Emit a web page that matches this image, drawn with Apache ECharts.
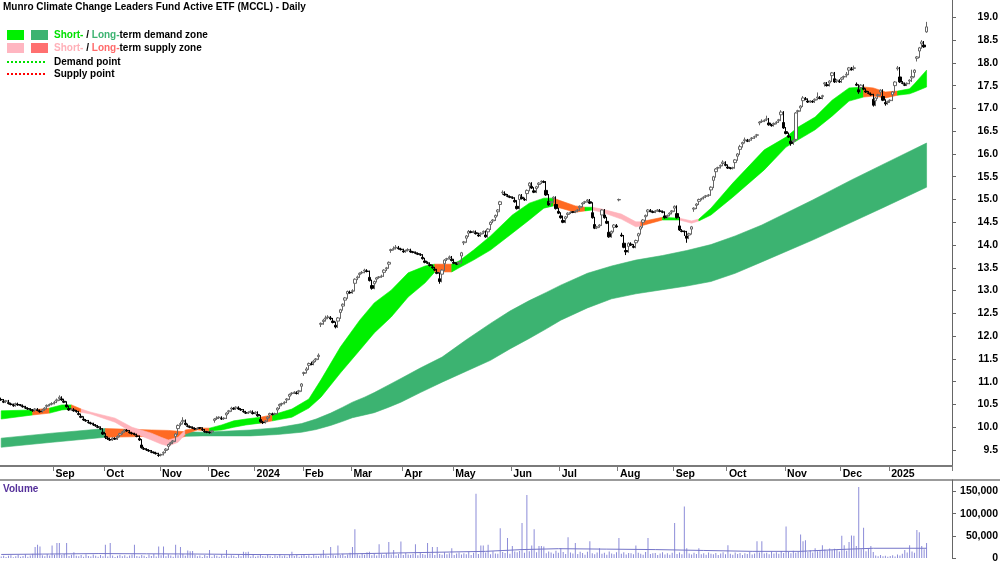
<!DOCTYPE html>
<html>
<head>
<meta charset="utf-8">
<script src="https://cdn.jsdelivr.net/npm/echarts@6/dist/echarts.min.js"></script>
<style>
html,body{margin:0;padding:0;background:#fff}
#main{width:1000px;height:562px}
</style>
</head>
<body>
<div id="main"></div>
<script>
// trading-day index 0 = first session of Aug 2023
var opens = [
10.61,10.57,10.57,10.54,10.51,10.48,10.50,10.50,10.49,10.46,
10.43,10.41,10.39,10.37,10.38,10.38,10.35,10.36,10.40,10.46,
10.49,10.51,10.54,10.58,10.63,10.62,10.57,10.49,10.41,10.39,
10.38,10.35,10.30,10.24,10.18,10.15,10.11,10.09,10.06,10.04,
10.01,9.97,9.89,9.80,9.76,9.73,9.74,9.75,9.77,9.83,
9.88,9.92,9.93,9.89,9.87,9.85,9.81,9.75,9.61,9.53,
9.51,9.49,9.46,9.45,9.43,9.39,9.39,9.43,9.49,9.58,
9.64,9.68,9.80,9.97,10.06,10.12,10.09,10.03,10.01,9.99,
9.97,9.97,9.99,9.95,9.91,9.90,9.89,9.90,10.15,10.19,
10.21,10.19,10.19,10.27,10.34,10.40,10.41,10.42,10.42,10.39,
10.35,10.32,10.32,10.34,10.32,10.31,10.28,10.17,10.11,10.12,
10.19,10.27,10.29,10.29,10.38,10.47,10.51,10.54,10.60,10.68,
10.74,10.76,10.75,10.78,10.90,11.18,11.25,11.36,11.39,11.42,
11.48,11.55,12.26,12.32,12.38,12.41,12.40,12.33,12.24,12.33,
12.52,12.66,12.79,12.93,12.96,12.98,13.16,13.28,13.35,13.39,
13.43,13.43,13.29,13.11,13.15,13.25,13.29,13.31,13.40,13.48,
13.58,13.88,13.91,13.94,13.93,13.91,13.87,13.87,13.89,13.87,
13.85,13.83,13.81,13.79,13.73,13.65,13.61,13.57,13.52,13.47,
13.40,13.26,13.36,13.59,13.69,13.72,13.69,13.62,13.59,13.60,
13.76,14.05,14.15,14.26,14.29,14.29,14.27,14.22,14.24,14.28,
14.22,14.29,14.45,14.53,14.61,14.73,14.89,15.15,15.12,15.08,
15.06,15.04,14.98,14.85,15.00,15.05,15.00,15.13,15.30,15.29,
15.19,15.24,15.33,15.39,15.39,15.20,14.96,14.93,15.02,14.89,
14.74,14.64,14.54,14.58,14.67,14.71,14.73,14.73,14.76,14.82,
14.90,14.94,14.97,14.95,14.71,14.45,14.38,14.42,14.66,14.66,
14.52,14.28,14.26,14.39,14.42,14.99,14.22,14.04,13.88,13.97,
14.02,13.97,14.05,14.20,14.35,14.50,14.62,14.73,14.75,14.73,
14.74,14.76,14.75,14.73,14.64,14.63,14.68,14.73,14.81,14.69,
14.42,14.31,14.30,14.20,14.22,14.35,14.79,14.87,14.96,15.01,
15.04,15.07,15.09,15.21,15.42,15.61,15.69,15.73,15.79,15.77,
15.71,15.69,15.69,15.81,15.95,16.10,16.22,16.29,16.29,16.30,
16.34,16.37,16.41,16.68,16.71,16.73,16.76,16.68,16.63,16.65,
16.69,16.73,16.86,16.69,16.49,16.40,16.28,16.27,16.32,16.93,
17.01,17.17,17.21,17.16,17.15,17.15,17.18,17.23,17.23,17.26,
17.54,17.52,17.56,17.72,17.65,17.60,17.59,17.64,17.69,17.73,
17.84,17.86,17.88,17.53,17.41,17.46,17.45,17.38,17.34,17.31,
17.20,17.17,17.28,17.36,17.26,17.13,17.13,17.17,17.30,17.50,
17.87,17.69,17.56,17.52,17.54,17.60,17.67,17.79,18.10,18.26,
18.42,18.39,18.68
];
var closes = [
10.60,10.55,10.58,10.52,10.50,10.47,10.52,10.49,10.48,10.45,
10.42,10.40,10.38,10.36,10.40,10.37,10.34,10.38,10.42,10.48,
10.50,10.52,10.55,10.60,10.66,10.60,10.55,10.45,10.38,10.40,
10.36,10.34,10.28,10.22,10.16,10.14,10.10,10.08,10.05,10.03,
10.00,9.96,9.85,9.78,9.75,9.72,9.76,9.74,9.80,9.86,
9.90,9.94,9.92,9.88,9.86,9.84,9.80,9.72,9.55,9.52,
9.50,9.48,9.45,9.44,9.42,9.38,9.40,9.45,9.52,9.62,
9.66,9.70,9.85,10.04,10.08,10.15,10.06,10.02,10.00,9.98,
9.96,9.98,9.98,9.94,9.90,9.89,9.88,9.92,10.18,10.20,
10.22,10.18,10.20,10.31,10.36,10.42,10.40,10.44,10.40,10.38,
10.34,10.31,10.33,10.35,10.30,10.33,10.25,10.12,10.10,10.14,
10.22,10.30,10.28,10.30,10.42,10.50,10.52,10.55,10.62,10.72,
10.75,10.77,10.74,10.80,10.95,11.20,11.28,11.40,11.38,11.45,
11.50,11.58,12.28,12.35,12.40,12.42,12.38,12.30,12.20,12.40,
12.58,12.70,12.84,12.98,12.95,13.00,13.25,13.30,13.38,13.40,
13.45,13.42,13.22,13.05,13.20,13.28,13.30,13.32,13.45,13.50,
13.62,13.90,13.92,13.95,13.92,13.90,13.85,13.88,13.90,13.85,
13.84,13.82,13.80,13.78,13.70,13.62,13.60,13.55,13.50,13.45,
13.38,13.20,13.45,13.67,13.70,13.74,13.66,13.60,13.58,13.62,
13.83,14.07,14.20,14.30,14.28,14.30,14.25,14.20,14.26,14.30,
14.18,14.35,14.50,14.55,14.65,14.77,14.95,15.16,15.10,15.07,
15.05,15.03,14.95,14.80,15.10,15.02,14.99,15.20,15.36,15.25,
15.16,15.28,15.36,15.40,15.38,15.10,14.88,14.95,15.05,14.80,
14.70,14.60,14.50,14.62,14.70,14.72,14.72,14.74,14.77,14.85,
14.92,14.95,14.99,14.92,14.60,14.37,14.40,14.44,14.77,14.60,
14.48,14.18,14.30,14.44,14.40,15.00,14.20,13.95,13.85,14.04,
14.00,13.95,14.10,14.25,14.40,14.55,14.65,14.77,14.74,14.72,
14.75,14.77,14.74,14.72,14.60,14.65,14.70,14.75,14.85,14.60,
14.33,14.30,14.29,14.15,14.25,14.40,14.81,14.90,15.00,15.02,
15.05,15.08,15.10,15.27,15.50,15.67,15.70,15.75,15.82,15.75,
15.69,15.68,15.70,15.87,16.00,16.16,16.25,16.31,16.28,16.31,
16.35,16.38,16.42,16.70,16.72,16.74,16.77,16.64,16.62,16.67,
16.70,16.75,16.92,16.57,16.45,16.37,16.23,16.30,16.90,16.95,
17.05,17.23,17.20,17.14,17.16,17.14,17.20,17.25,17.22,17.28,
17.56,17.50,17.60,17.78,17.58,17.62,17.58,17.67,17.70,17.75,
17.89,17.85,17.89,17.51,17.36,17.51,17.42,17.36,17.33,17.30,
17.07,17.23,17.30,17.40,17.18,17.10,17.15,17.18,17.36,17.58,
17.89,17.58,17.55,17.51,17.55,17.62,17.70,17.84,18.13,18.33,
18.46,18.35,18.79
];
var highs = [
10.65,10.62,10.60,10.60,10.54,10.52,10.54,10.54,10.51,10.50,
10.47,10.44,10.42,10.40,10.42,10.42,10.39,10.40,10.44,10.50,
10.52,10.55,10.58,10.63,10.70,10.68,10.62,10.57,10.47,10.42,
10.42,10.38,10.36,10.30,10.24,10.18,10.16,10.12,10.10,10.07,
10.05,10.02,9.98,9.87,9.80,9.77,9.78,9.78,9.82,9.88,
9.92,9.96,9.96,9.94,9.90,9.88,9.86,9.82,9.74,9.57,
9.54,9.52,9.50,9.47,9.46,9.44,9.42,9.47,9.54,9.64,
9.68,9.72,9.87,10.06,10.12,10.22,10.17,10.08,10.04,10.02,
10.00,10.00,10.00,10.00,9.96,9.92,9.91,9.94,10.20,10.24,
10.24,10.24,10.22,10.33,10.38,10.45,10.44,10.46,10.46,10.42,
10.40,10.36,10.35,10.37,10.37,10.35,10.35,10.27,10.14,10.16,
10.24,10.32,10.32,10.32,10.44,10.52,10.54,10.57,10.64,10.74,
10.77,10.79,10.79,10.82,10.97,11.22,11.32,11.42,11.44,11.48,
11.52,11.62,12.30,12.38,12.45,12.46,12.44,12.40,12.32,12.42,
12.60,12.72,12.86,13.00,13.00,13.03,13.27,13.33,13.40,13.43,
13.48,13.47,13.44,13.24,13.22,13.30,13.32,13.35,13.47,13.52,
13.64,13.92,13.97,14.00,13.98,13.94,13.92,13.90,13.93,13.92,
13.87,13.86,13.84,13.82,13.80,13.72,13.64,13.62,13.57,13.52,
13.47,13.40,13.47,13.69,13.72,13.77,13.76,13.68,13.62,13.64,
13.85,14.09,14.22,14.33,14.32,14.32,14.32,14.27,14.28,14.32,
14.32,14.37,14.52,14.57,14.67,14.79,14.97,15.20,15.18,15.12,
15.09,15.07,15.05,14.97,15.12,15.12,15.04,15.22,15.38,15.38,
15.27,15.30,15.38,15.42,15.42,15.40,15.12,14.97,15.07,15.07,
14.82,14.72,14.62,14.64,14.72,14.74,14.74,14.76,14.79,14.87,
14.94,14.97,15.01,15.01,14.94,14.62,14.42,14.46,14.79,14.79,
14.62,14.50,14.32,14.46,14.46,15.02,14.27,14.22,13.97,14.06,
14.06,14.02,14.12,14.27,14.42,14.57,14.67,14.79,14.79,14.76,
14.77,14.79,14.79,14.76,14.74,14.67,14.72,14.77,14.87,14.87,
14.62,14.35,14.32,14.31,14.27,14.42,14.83,14.92,15.02,15.04,
15.07,15.10,15.12,15.29,15.52,15.69,15.72,15.77,15.86,15.84,
15.77,15.71,15.72,15.89,16.02,16.20,16.27,16.36,16.33,16.33,
16.37,16.40,16.44,16.72,16.76,16.76,16.84,16.79,16.66,16.69,
16.72,16.77,16.96,16.94,16.59,16.47,16.39,16.32,16.92,16.97,
17.07,17.27,17.25,17.22,17.18,17.18,17.22,17.35,17.27,17.30,
17.58,17.58,17.62,17.80,17.80,17.64,17.64,17.69,17.72,17.80,
17.91,17.91,17.94,17.57,17.53,17.53,17.53,17.44,17.38,17.35,
17.32,17.25,17.32,17.42,17.42,17.20,17.17,17.20,17.38,17.60,
17.93,17.91,17.60,17.57,17.57,17.64,17.85,17.86,18.15,18.35,
18.50,18.48,18.90
];
var lows = [
10.58,10.53,10.53,10.50,10.48,10.45,10.45,10.47,10.46,10.43,
10.40,10.38,10.36,10.34,10.34,10.35,10.32,10.32,10.36,10.40,
10.46,10.48,10.50,10.53,10.58,10.58,10.53,10.43,10.36,10.36,
10.34,10.32,10.26,10.20,10.14,10.12,10.08,10.06,10.03,10.01,
9.98,9.94,9.83,9.74,9.72,9.70,9.70,9.72,9.72,9.78,
9.84,9.88,9.90,9.86,9.84,9.82,9.78,9.70,9.53,9.50,
9.48,9.46,9.43,9.42,9.40,9.35,9.36,9.38,9.43,9.50,
9.60,9.64,9.68,9.83,10.02,10.06,10.04,10.00,9.98,9.96,
9.94,9.94,9.96,9.92,9.88,9.87,9.86,9.86,10.10,10.16,
10.18,10.16,10.16,10.18,10.29,10.34,10.38,10.38,10.38,10.36,
10.32,10.29,10.29,10.31,10.28,10.28,10.23,10.10,10.07,10.08,
10.12,10.20,10.26,10.26,10.28,10.40,10.48,10.50,10.53,10.60,
10.70,10.73,10.72,10.72,10.78,11.13,11.18,11.26,11.36,11.36,
11.43,11.48,12.20,12.25,12.32,12.38,12.35,12.28,12.17,12.18,
12.38,12.56,12.68,12.82,12.93,12.93,12.98,13.23,13.28,13.36,
13.38,13.40,13.20,13.02,13.03,13.18,13.26,13.28,13.30,13.43,
13.48,13.83,13.88,13.90,13.90,13.88,13.83,13.83,13.86,13.83,
13.82,13.80,13.78,13.76,13.68,13.60,13.58,13.53,13.48,13.43,
13.36,13.15,13.18,13.43,13.65,13.68,13.64,13.58,13.56,13.56,
13.60,14.00,14.05,14.18,14.26,14.26,14.23,14.18,14.18,14.24,
14.16,14.16,14.33,14.48,14.53,14.63,14.75,15.10,15.08,15.05,
15.03,15.01,14.93,14.78,14.78,15.00,14.97,14.97,15.18,15.23,
15.14,15.14,15.26,15.34,15.36,15.08,14.86,14.86,14.93,14.78,
14.68,14.58,14.48,14.48,14.60,14.68,14.70,14.70,14.72,14.75,
14.83,14.90,14.93,14.90,14.58,14.35,14.35,14.38,14.42,14.58,
14.46,14.16,14.16,14.28,14.38,14.96,14.18,13.93,13.78,13.83,
13.98,13.93,13.93,14.08,14.23,14.38,14.53,14.63,14.72,14.70,
14.70,14.73,14.72,14.70,14.58,14.58,14.63,14.68,14.73,14.58,
14.31,14.28,14.20,14.05,14.13,14.23,14.73,14.79,14.88,14.98,
15.00,15.03,15.06,15.08,15.25,15.48,15.65,15.68,15.73,15.73,
15.67,15.66,15.66,15.68,15.85,15.98,16.14,16.23,16.26,16.26,
16.29,16.33,16.36,16.63,16.68,16.70,16.72,16.62,16.60,16.60,
16.65,16.68,16.73,16.55,16.43,16.35,16.18,16.20,16.28,16.88,
16.93,17.03,17.18,17.12,17.12,17.12,17.12,17.18,17.20,17.20,
17.48,17.48,17.48,17.58,17.56,17.56,17.56,17.56,17.65,17.68,
17.73,17.83,17.83,17.49,17.32,17.34,17.40,17.34,17.31,17.28,
17.04,17.05,17.21,17.28,17.16,17.06,17.08,17.13,17.16,17.34,
17.83,17.56,17.53,17.49,17.49,17.53,17.58,17.68,18.03,18.11,
18.31,18.33,18.66
];
var volumes = [
3200,5100,2400,4800,6100,1800,3900,7200,2600,4400,
8200,3100,5600,9800,25000,30000,26000,6200,4100,8800,
5400,28000,7600,34000,34000,6800,9200,34000,4300,7100,
13000,5200,3800,6600,2900,8400,4700,3300,7900,5100,
2600,6900,4200,30000,3600,34000,5800,2100,4900,7400,
3900,6300,2800,5500,8100,30000,4400,3200,6700,5000,
2300,7800,4600,9100,3500,26000,6000,26000,4100,8300,
5700,3000,30000,6400,25000,9600,4800,17000,15000,16000,
7300,3700,5900,2200,6600,4300,18000,3100,7000,5200,
2700,8600,4500,18000,3400,6200,5100,2400,7700,4000,
14000,13000,14000,3600,6800,2900,5300,8000,4600,3300,
7100,5000,2500,6400,4200,8900,3700,5800,2600,6900,
14000,4400,7500,3000,5600,9300,4100,6100,2800,7900,
5300,3800,8400,18000,6200,4700,25000,7300,5100,28000,
6600,9400,4300,7800,12000,25000,65000,8700,5900,11000,
7200,13000,14000,6100,9800,5400,31000,8200,6600,10500,
36000,7700,18000,5800,9200,37000,6900,11500,8100,7400,
9600,31000,6300,12000,8800,7100,34000,10200,25000,6700,
25000,9100,7600,13000,8400,11000,22000,6500,9900,12500,
7800,10800,8300,14000,6900,11800,145000,9300,28000,28000,
12200,30000,8700,15000,10400,9600,67000,13500,11200,45000,
9800,27000,14500,12800,16000,79000,11600,142000,15500,28000,
65000,13200,27000,27000,26000,10900,14800,12300,9400,16200,
11700,22000,13400,9100,47000,12600,10300,34000,8900,14100,
11300,7600,13900,38000,10700,8200,12400,22000,9500,11900,
7300,14400,10100,8600,12700,45000,9800,13100,7900,11200,
10600,8300,28000,12100,9700,7400,13600,45000,8800,10500,
11400,6900,9900,12800,8100,10700,7300,11800,79000,9300,
12400,8600,116000,22000,10200,7800,11600,9100,22000,8400,
10900,7600,12300,9700,8200,11400,6800,10300,13100,8700,
29000,9600,7200,12600,8900,11100,6500,10800,9300,13700,
8100,10400,38000,12200,38000,9900,11700,8300,14600,10200,
12900,9400,15800,11300,71000,13600,10700,16400,12100,14900,
53000,38000,40000,13800,17600,12500,22000,15200,18300,29000,
19400,16800,21200,17900,20600,18400,14700,50000,29000,16100,
36000,51000,50000,27000,160000,19800,68000,15300,21700,27000,
13600,5400,4200,6800,3900,5100,2800,4600,6200,3500,
7900,5800,9400,18000,12300,29000,14700,11600,63000,58000,
27000,20000,34000
];
// volume moving average: [day index, value]
var volumeAvg = [
[0,8000],[20,9000],[40,10000],[60,9500],[80,9000],[100,8000],[120,7500],
[140,9000],[160,11000],[180,13000],[200,15000],[215,19000],[230,21000],
[250,20000],[270,19000],[290,17000],[310,15000],[330,15000],[345,19000],
[360,22000],[382,22000]
];
// zones: [day index, upper price, lower price, zone]  d = demand, o/p = supply
var shortBand = [
[0,10.36,10.18,'d'],[13,10.38,10.27,'o'],[20,10.42,10.31,'d'],[25,10.49,10.38,'d'],
[29,10.49,10.40,'o'],[33,10.40,10.33,'p'],[37,10.33,10.29,'p'],[47,10.20,10.11,'p'],
[54,10.00,9.89,'p'],[62,9.87,9.72,'p'],[66,9.78,9.63,'p'],[69,9.72,9.59,'p'],
[73,9.78,9.67,'p'],[76,9.94,9.85,'o'],[81,9.98,9.94,'o'],[86,9.98,9.92,'d'],
[91,10.05,9.94,'d'],[96,10.14,10.00,'d'],[101,10.18,10.05,'d'],[107,10.22,10.09,'o'],
[112,10.27,10.14,'d'],[120,10.40,10.22,'d'],[127,10.62,10.42,'d'],[132,11.04,10.66,'d'],
[140,11.76,11.19,'d'],[148,12.35,11.69,'d'],[154,12.73,12.07,'d'],[161,13.01,12.42,'d'],
[168,13.39,12.86,'d'],[175,13.54,13.17,'d'],[179,13.58,13.41,'o'],[186,13.58,13.41,'d'],
[189,13.65,13.50,'d'],[195,13.89,13.67,'d'],[202,14.20,13.89,'d'],[211,14.66,14.26,'d'],
[218,14.92,14.55,'d'],[224,15.03,14.81,'d'],[228,15.03,14.86,'o'],[231,14.97,14.81,'o'],
[237,14.86,14.72,'o'],[241,14.83,14.75,'d'],[244,14.83,14.77,'p'],[248,14.79,14.72,'p'],
[256,14.68,14.57,'p'],[262,14.51,14.40,'p'],[264,14.51,14.42,'o'],[273,14.61,14.55,'d'],
[280,14.59,14.55,'p'],[285,14.53,14.48,'p'],[288,14.57,14.53,'d'],[293,14.81,14.66,'d'],
[302,15.36,15.05,'d'],[315,16.09,15.65,'d'],[324,16.37,16.15,'d'],[329,16.59,16.31,'d'],
[336,16.81,16.53,'d'],[343,17.18,16.83,'d'],[350,17.45,17.16,'d'],[356,17.47,17.25,'o'],
[360,17.45,17.27,'o'],[365,17.36,17.23,'o'],[370,17.38,17.29,'d'],[375,17.43,17.32,'d'],
[377,17.54,17.36,'d'],[382,17.84,17.47,'d']
];
var longBand = [
[0,9.76,9.56,'d'],[21,9.87,9.67,'d'],[43,9.97,9.78,'o'],[62,9.94,9.80,'o'],
[69,9.93,9.70,'o'],[76,9.90,9.80,'d'],[83,9.89,9.81,'d'],[103,9.94,9.81,'d'],
[114,9.99,9.84,'d'],[124,10.08,9.89,'d'],[130,10.18,9.95,'d'],[136,10.31,10.04,'d'],
[141,10.44,10.13,'d'],[145,10.55,10.21,'d'],[150,10.66,10.27,'d'],[154,10.76,10.32,'d'],
[160,10.93,10.44,'d'],[165,11.07,10.55,'d'],[173,11.30,10.76,'d'],[182,11.54,10.99,'d'],
[192,11.92,11.23,'d'],[202,12.28,11.47,'d'],[210,12.55,11.72,'d'],[218,12.78,11.95,'d'],
[225,12.96,12.16,'d'],[231,13.12,12.35,'d'],[242,13.38,12.62,'d'],[252,13.54,12.82,'d'],
[262,13.67,12.93,'d'],[273,13.77,13.02,'d'],[283,13.88,13.10,'d'],[293,14.01,13.20,'d'],
[303,14.20,13.38,'d'],[314,14.44,13.63,'d'],[335,14.99,14.11,'d'],[351,15.43,14.50,'d'],
[364,15.77,14.82,'d'],[382,16.24,15.27,'d']
];
var monthTicks = [
[22,'Sep'],[43,'Oct'],[66,'Nov'],[86,'Dec'],[105,'2024'],[125,'Feb'],[145,'Mar'],
[166,'Apr'],[187,'May'],[211,'Jun'],[231,'Jul'],[255,'Aug'],[278,'Sep'],[300,'Oct'],
[324,'Nov'],[347,'Dec'],[367,'2025']
];
var priceTicks = [9.5,10,10.5,11,11.5,12,12.5,13,13.5,14,14.5,15,15.5,16,16.5,17,17.5,18,18.5,19];
var volumeTicks = [0,50000,100000,150000];

var slotCount = 393;
var slots = [];
for (var i = 0; i < slotCount; i++) slots.push(String(i));
var monthName = {};
monthTicks.forEach(function (m) { monthName[m[0]] = m[1]; });

var FONT = '"Liberation Sans", Arial, sans-serif';
var shortColors = { d: '#00f000', o: '#ff6a22', p: '#ffb3bb' };
var longColors = { d: '#3cb371', o: '#ff6a22' };

function segmentsOf(band) {
  var out = [];
  for (var k = 0; k < band.length - 1; k++) {
    var z = band[k][3];
    var last = out[out.length - 1];
    if (last && last.zone === z) last.pts.push(band[k + 1]);
    else out.push({ zone: z, pts: [band[k], band[k + 1]] });
  }
  return out;
}

function bandSeries(band, colors, z) {
  var segs = segmentsOf(band);
  return {
    type: 'custom',
    xAxisIndex: 0,
    yAxisIndex: 0,
    z: z,
    silent: true,
    clip: true,
    data: segs.map(function (s) { return [s.pts[0][0], s.pts[0][1]]; }),
    renderItem: function (params, api) {
      var s = segs[params.dataIndex];
      var pts = [];
      for (var a = 0; a < s.pts.length; a++) pts.push(api.coord([s.pts[a][0], s.pts[a][1]]));
      for (var b = s.pts.length - 1; b >= 0; b--) pts.push(api.coord([s.pts[b][0], s.pts[b][2]]));
      var c = colors[s.zone];
      return { type: 'polygon', shape: { points: pts }, style: { fill: c, stroke: c, lineWidth: 0.6 } };
    }
  };
}

var candles = opens.map(function (o, k) { return [o, closes[k], lows[k], highs[k]]; });

var chart = echarts.init(document.getElementById('main'), null, { renderer: 'canvas' });

var labelFont = { fontFamily: FONT, fontWeight: 'bold', fontSize: 10.5, color: '#000' };
var legendFont = 'bold 10px ' + FONT;

chart.setOption({
  animation: false,
  backgroundColor: '#fff',
  textStyle: { fontFamily: FONT },
  grid: [
    { left: 0, right: 48, top: 0, bottom: 96, outerBoundsMode: 'none' },
    { left: 0, right: 48, top: 480, bottom: 4, outerBoundsMode: 'none' }
  ],
  xAxis: [
    {
      type: 'category', gridIndex: 0, data: slots, boundaryGap: true,
      axisLine: { show: true, lineStyle: { color: '#7a7a7a', width: 2 } },
      axisTick: {
        show: true, length: 5, lineStyle: { color: '#7a7a7a' },
        interval: function (idx) { return monthName[idx] !== undefined; }
      },
      axisLabel: Object.assign({
        show: true, margin: 3, align: 'left', padding: [0, 0, 0, 1],
        interval: function (idx) { return monthName[idx] !== undefined; },
        formatter: function (v, idx) { return monthName[idx] || ''; }
      }, labelFont),
      splitLine: { show: false }
    },
    {
      type: 'category', gridIndex: 1, data: slots, boundaryGap: true,
      axisLine: { show: false }, axisTick: { show: false }, axisLabel: { show: false },
      splitLine: { show: false }
    }
  ],
  yAxis: [
    {
      type: 'value', gridIndex: 0, position: 'right', min: 9.149, max: 19.38, scale: true,
      axisLine: { show: true, lineStyle: { color: '#666' } },
      axisTick: { show: true, length: 4, lineStyle: { color: '#666' }, customValues: priceTicks },
      axisLabel: Object.assign({
        margin: 46, align: 'right', customValues: priceTicks,
        formatter: function (v) { return v.toFixed(1); }
      }, labelFont),
      splitLine: { show: false }
    },
    {
      type: 'value', gridIndex: 1, position: 'right', min: 0, max: 176000,
      axisLine: { show: true, lineStyle: { color: '#666' } },
      axisTick: { show: true, length: 4, lineStyle: { color: '#666' }, customValues: volumeTicks },
      axisLabel: Object.assign({
        margin: 46, align: 'right', customValues: volumeTicks,
        formatter: function (v) { return String(Math.round(v)).replace(/\B(?=(\d{3})+(?!\d))/g, ','); }
      }, labelFont),
      splitLine: { show: false }
    }
  ],
  series: [
    bandSeries(longBand, longColors, 1),
    bandSeries(shortBand, shortColors, 2),
    {
      type: 'candlestick', xAxisIndex: 0, yAxisIndex: 0, z: 5, barWidth: 3,
      data: candles,
      itemStyle: { color: '#ffffff', color0: '#000000', borderColor: '#666666', borderColor0: '#000000', borderWidth: 1 }
    },
    {
      type: 'bar', xAxisIndex: 1, yAxisIndex: 1, barWidth: 1, data: volumes,
      itemStyle: { color: '#8c8cd8' }
    },
    {
      type: 'line', xAxisIndex: 1, yAxisIndex: 1, data: volumeAvg, showSymbol: false,
      lineStyle: { color: '#7474c8', width: 1 }, z: 4
    }
  ],
  graphic: [
    { type: 'text', left: 3, top: 2, style: { text: 'Munro Climate Change Leaders Fund Active ETF (MCCL) - Daily', font: legendFont, fill: '#000' } },
    { type: 'rect', shape: { x: 7, y: 30, width: 17, height: 10 }, style: { fill: '#00f000' } },
    { type: 'rect', shape: { x: 31, y: 30, width: 17, height: 10 }, style: { fill: '#3cb371' } },
    { type: 'rect', shape: { x: 7, y: 43, width: 17, height: 10 }, style: { fill: '#ffb6c1' } },
    { type: 'rect', shape: { x: 31, y: 43, width: 17, height: 10 }, style: { fill: '#ff7070' } },
    { type: 'text', x: 54, y: 35, style: {
      text: '{a|Short-}{k| / }{b|Long-}{k|term demand zone}', verticalAlign: 'middle',
      rich: {
        a: { fill: '#00e000', font: legendFont },
        b: { fill: '#3cb371', font: legendFont },
        k: { fill: '#000', font: legendFont }
      } } },
    { type: 'text', x: 54, y: 48.5, style: {
      text: '{a|Short-}{k| / }{b|Long-}{k|term supply zone}', verticalAlign: 'middle',
      rich: {
        a: { fill: '#ffb0b8', font: legendFont },
        b: { fill: '#ff6a6a', font: legendFont },
        k: { fill: '#000', font: legendFont }
      } } },
    { type: 'line', shape: { x1: 7, y1: 62, x2: 45, y2: 62 }, style: { stroke: '#00e000', lineWidth: 2, lineDash: [2, 2] } },
    { type: 'text', x: 54, y: 62, style: { text: 'Demand point', verticalAlign: 'middle', font: legendFont, fill: '#000' } },
    { type: 'line', shape: { x1: 7, y1: 74, x2: 45, y2: 74 }, style: { stroke: '#ff0000', lineWidth: 2, lineDash: [2, 2] } },
    { type: 'text', x: 54, y: 74, style: { text: 'Supply point', verticalAlign: 'middle', font: legendFont, fill: '#000' } },
    { type: 'line', shape: { x1: 0, y1: 480, x2: 1000, y2: 480 }, style: { stroke: '#7a7a7a', lineWidth: 1.5 } },
    { type: 'text', x: 3, y: 489, style: { text: 'Volume', verticalAlign: 'middle', font: legendFont, fill: '#55309a' } }
  ]
});
</script>
</body>
</html>
